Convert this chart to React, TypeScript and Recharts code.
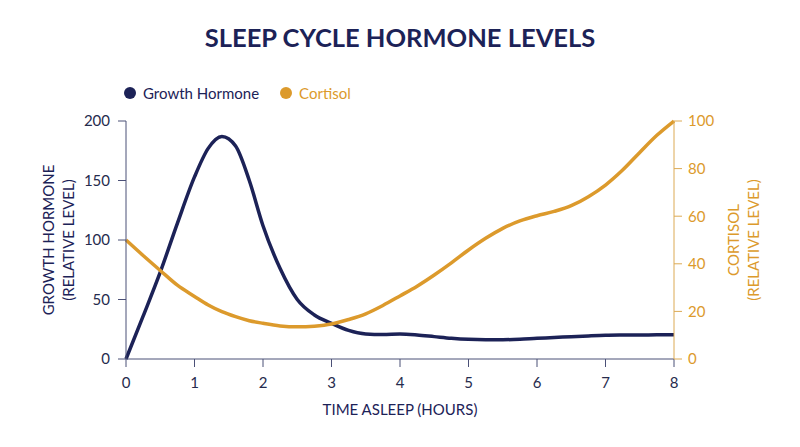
import { LineChart, Line, XAxis, YAxis } from "recharts";

const NAVY = "#1c2257";
const GOLD = "#dc9a2c";
const FONT = "Lato, 'Open Sans', sans-serif";

// hours asleep (denser around the growth hormone peak)
const hours = [
  0, 0.25, 0.5, 0.75, 1, 1.2, 1.4, 1.6, 1.8, 2, 2.25, 2.5, 2.75, 3, 3.25, 3.5,
  3.75, 4, 4.25, 4.5, 4.75, 5, 5.25, 5.5, 5.75, 6, 6.25, 6.5, 6.75, 7, 7.25,
  7.5, 7.75, 8,
];
const growthHormone = [
  0, 36, 73, 114, 153, 177, 187, 179, 150, 112, 76, 50, 37, 30, 24, 21, 20.5,
  21, 20.2, 18.8, 17.4, 16.5, 16.2, 16.2, 16.6, 17.4, 18, 18.8, 19.4, 19.9,
  20.1, 20.2, 20.3, 20.4,
];
const cortisol = [
  50, 43.5, 37.2, 31, 26.3, 22.7, 19.9, 17.8, 16.1, 15, 13.9, 13.5, 13.8, 14.7,
  16.6, 19, 22.5, 26.5, 30.6, 35.3, 40.4, 45.8, 50.7, 54.9, 58, 60.2, 62, 64.4,
  68.2, 73.1, 79.4, 86.8, 94, 100,
];
const hourTicks = [0, 1, 2, 3, 4, 5, 6, 7, 8];
const ghTicks = [0, 50, 100, 150, 200];
const cortisolTicks = [0, 20, 40, 60, 80, 100];

const data = hours.map((h, i) => ({
  hour: h,
  gh: growthHormone[i],
  cortisol: cortisol[i],
}));

const legendItems = [
  { label: "Growth Hormone", color: NAVY },
  { label: "Cortisol", color: GOLD },
];

// two-line rotated axis title
const axisTitle =
  (lines: string[], x: number, color: string) => (props: any) => {
    const vb = props.viewBox || {};
    const cy = (vb.y ?? 121) + (vb.height ?? 237) / 2;
    return (
      <g>
        {lines.map((line, i) => (
          <text
            key={line}
            x={x + i * 20}
            y={cy}
            transform={`rotate(-90, ${x + i * 20}, ${cy})`}
            textAnchor="middle"
            dominantBaseline="central"
            fill={color}
            fontSize={15}
            fontFamily={FONT}
          >
            {line}
          </text>
        ))}
      </g>
    );
  };

const App = () => {
  return (
    <div style={{ position: "absolute", left: 0, top: 0, width: 800, height: 447, background: "#fff" }}>
      <div
        style={{
          position: "absolute",
          top: 22,
          width: 800,
          textAlign: "center",
          fontFamily: FONT,
          fontWeight: 700,
          fontSize: 25.5,
          color: NAVY,
          lineHeight: "30px",
        }}
      >
        SLEEP CYCLE HORMONE LEVELS
      </div>
      {/* legend kept outside the chart so it does not shift the plot area */}
      <div
        style={{
          position: "absolute",
          top: 83,
          left: 124,
          display: "flex",
          gap: 21,
          fontFamily: FONT,
          fontSize: 15,
          lineHeight: "20px",
        }}
      >
        {legendItems.map((item) => (
          <div
            key={item.label}
            style={{ display: "flex", alignItems: "center", color: item.color }}
          >
            <span
              style={{
                width: 12,
                height: 12,
                borderRadius: "50%",
                background: item.color,
                marginRight: 7,
                display: "inline-block",
              }}
            />
            {item.label}
          </div>
        ))}
      </div>
      <div style={{ position: "absolute", left: 0, top: 0 }}>
        <LineChart
          width={800}
          height={447}
          data={data}
          margin={{ top: 121, right: 66, left: 66, bottom: 38 }}
        >
          <XAxis
            dataKey="hour"
            type="number"
            domain={[0, 8]}
            ticks={hourTicks}
            height={50}
            tickSize={8}
            tickMargin={10}
            stroke="#4b5077"
            tick={{ fill: "#262b4d", fontSize: 15, fontFamily: FONT }}
            label={{
              content: (props: any) => {
                const vb = props.viewBox || {};
                return (
                  <text
                    x={(vb.x ?? 126) + (vb.width ?? 548) / 2}
                    y={409}
                    textAnchor="middle"
                    dominantBaseline="central"
                    fill={NAVY}
                    fontSize={15}
                    fontFamily={FONT}
                  >
                    TIME ASLEEP (HOURS)
                  </text>
                );
              },
            }}
          />
          <YAxis
            yAxisId="gh"
            orientation="left"
            domain={[0, 200]}
            ticks={ghTicks}
            width={60}
            tickSize={8}
            tickMargin={8}
            stroke="#4b5077"
            tick={{ fill: "#262b4d", fontSize: 15, fontFamily: FONT }}
            label={{
              content: axisTitle(["GROWTH HORMONE", "(RELATIVE LEVEL)"], 48, NAVY),
            }}
          />
          <YAxis
            yAxisId="cortisol"
            orientation="right"
            domain={[0, 100]}
            ticks={cortisolTicks}
            width={60}
            tickSize={8}
            tickMargin={6}
            stroke="#dcaa55"
            tick={{ fill: GOLD, fontSize: 15, fontFamily: FONT }}
            label={{
              content: axisTitle(["CORTISOL", "(RELATIVE LEVEL)"], 733, GOLD),
            }}
          />
          <Line
            yAxisId="gh"
            type="monotone"
            dataKey="gh"
            name="Growth Hormone"
            stroke={NAVY}
            strokeWidth={3.5}
            dot={false}
            isAnimationActive={false}
          />
          <Line
            yAxisId="cortisol"
            type="monotone"
            dataKey="cortisol"
            name="Cortisol"
            stroke={GOLD}
            strokeWidth={3.5}
            dot={false}
            isAnimationActive={false}
          />
        </LineChart>
      </div>
    </div>
  );
};

export default App;
